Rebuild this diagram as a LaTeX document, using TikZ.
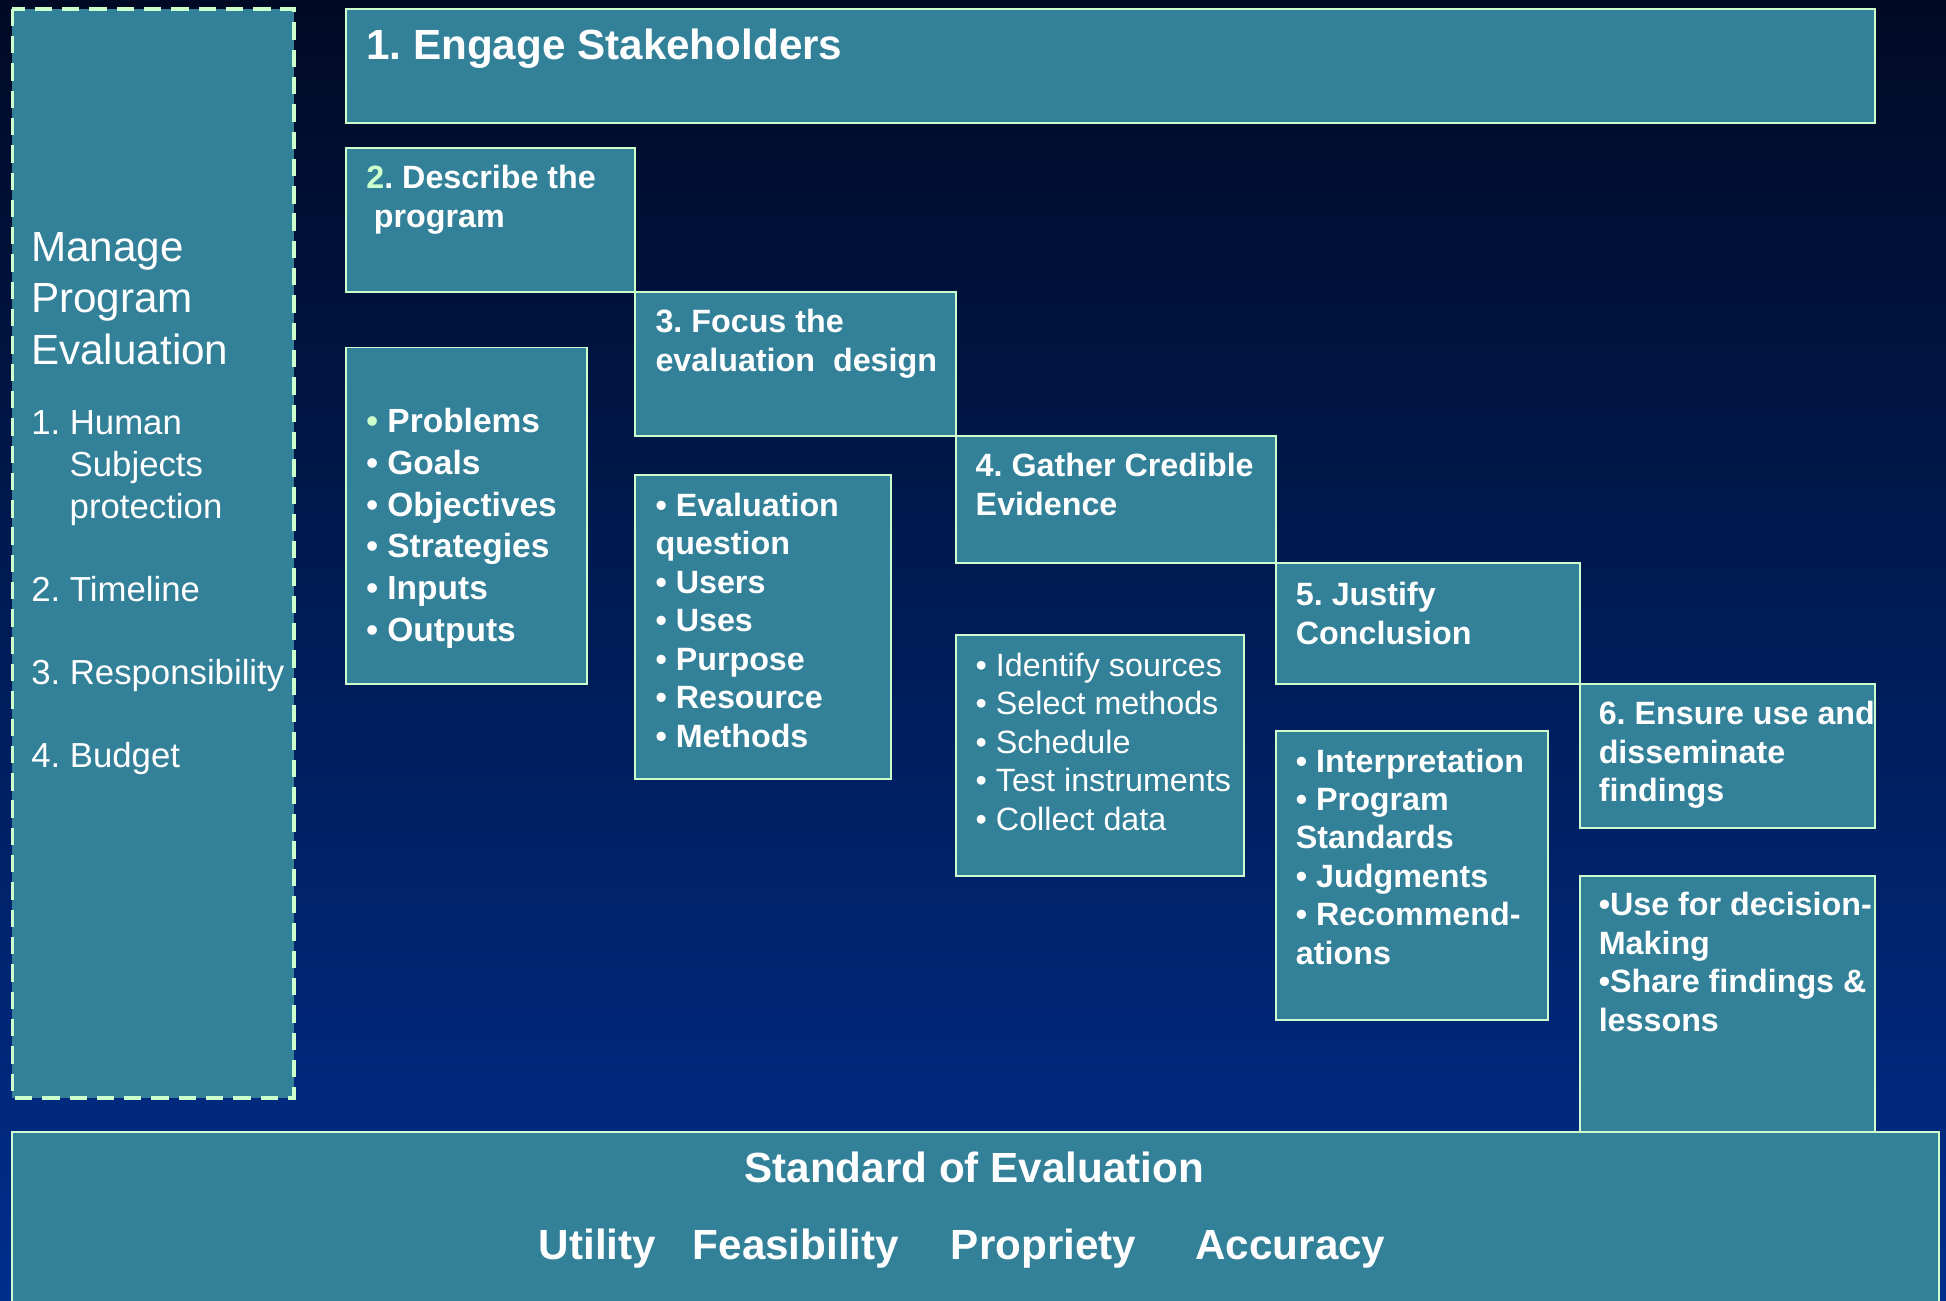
\documentclass[tikz,border=0pt]{standalone}
\usepackage{fontspec}
\setmainfont{Liberation Sans}
\usepackage{tikz}
\definecolor{bg_top}{RGB}{0,10,36}
\definecolor{bg_bottom}{RGB}{0,46,140}
\definecolor{box_teal}{RGB}{51,128,153}
\definecolor{edge_mint}{RGB}{204,255,204}
\frenchspacing

\begin{document}
\begin{tikzpicture}[x=1pt,y=-1pt]
    \tikzstyle{stepbox}=[draw=edge_mint, line width=1.6pt, fill=box_teal]
    \tikzstyle{managebox}=[draw=edge_mint, line width=3pt, dash pattern=on 14pt off 8pt, fill=box_teal]
    \tikzstyle{txt}=[inner sep=0pt, text=white, align=left, anchor=north west]
    \tikzstyle{title}=[txt, font=\bfseries\fontsize{26}{31}\selectfont]
    \tikzstyle{items}=[txt, font=\bfseries\fontsize{26}{31}\selectfont]
    \tikzstyle{big}=[inner sep=0pt, text=white, font=\bfseries\fontsize{34}{41}\selectfont]

    \useasboundingbox (0,0) rectangle (1568,1048);
    \shade[top color=bg_top, bottom color=bg_bottom] (0,0) rectangle (1568,1048);

    % boxes
    \draw[managebox] (10,7) rectangle (237,885);
    \draw[stepbox] (279,7) rectangle (1511,99);
    \draw[stepbox] (279,280) rectangle (473,551);
    \draw[stepbox] (512,383) rectangle (718,628);
    \draw[stepbox] (770,512) rectangle (1002,706);
    \draw[stepbox] (1028,589) rectangle (1247,822);
    \draw[stepbox] (1273,706) rectangle (1511,914);
    \draw[stepbox] (279,119) rectangle (512,235);
    \draw[stepbox] (512,235) rectangle (770,351);
    \draw[stepbox] (770,351) rectangle (1028,454);
    \draw[stepbox] (1028,454) rectangle (1273,551);
    \draw[stepbox] (1273,551) rectangle (1511,667);
    \draw[stepbox] (10,912) rectangle (1562,1060);

    % manage column
    \node[txt, font=\fontsize{34}{41.5}\selectfont] (manage) at (25,187)
        {Manage\\Program\\Evaluation};
    \node[txt, font=\fontsize{28}{33.5}\selectfont] (tasks) at (25,331)
        {1.~Human\\\hspace*{31pt}Subjects\\\hspace*{31pt}protection\\[33.5pt]
         2.~Timeline\\[33.5pt]3.~Responsibility\\[33.5pt]4.~Budget};

    % steps
    \node[big, anchor=base west] (engage) at (295,48) {1. Engage Stakeholders};
    \node[title] (describe) at (295,133)
        {\textcolor{edge_mint}{2}. Describe the\\\hspace*{6pt}program};
    \node[title] (focus) at (528,249) {3. Focus the\\evaluation~~design};
    \node[title] (gather) at (786,365) {4. Gather Credible\\Evidence};
    \node[title] (justify) at (1044,469) {5. Justify\\Conclusion};
    \node[title] (ensure) at (1288,565) {6. Ensure use and\\disseminate\\findings};

    % lists
    \node[items, font=\bfseries\fontsize{27}{33.6}\selectfont] (describe_list) at (295,329)
        {\textcolor{edge_mint}{\textbullet}~Problems\\\textbullet~Goals\\\textbullet~Objectives\\
         \textbullet~Strategies\\\textbullet~Inputs\\\textbullet~Outputs};
    \node[items] (focus_list) at (528,397)
        {\textbullet~Evaluation\\question\\\textbullet~Users\\\textbullet~Uses\\
         \textbullet~Purpose\\\textbullet~Resource\\\textbullet~Methods};
    \node[items, font=\fontsize{26}{31}\selectfont] (gather_list) at (786,526)
        {\textbullet~Identify sources\\\textbullet~Select methods\\\textbullet~Schedule\\
         \textbullet~Test instruments\\\textbullet~Collect data};
    \node[items] (justify_list) at (1044,603)
        {\textbullet~Interpretation\\\textbullet~Program\\Standards\\\textbullet~Judgments\\
         \textbullet~Recommend-\\ations};
    \node[items] (ensure_list) at (1288,719)
        {\textbullet Use for decision-\\Making\\\textbullet Share findings \&\\lessons};

    % standards
    \node[big, anchor=base] (standard) at (785,953) {Standard of Evaluation};
    \node[big, anchor=base west] (utility) at (434,1015) {Utility};
    \node[big, anchor=base west] (feasibility) at (558,1015) {Feasibility};
    \node[big, anchor=base west] (propriety) at (766,1015) {Propriety};
    \node[big, anchor=base west] (accuracy) at (963,1015) {Accuracy};
\end{tikzpicture}
\end{document}
